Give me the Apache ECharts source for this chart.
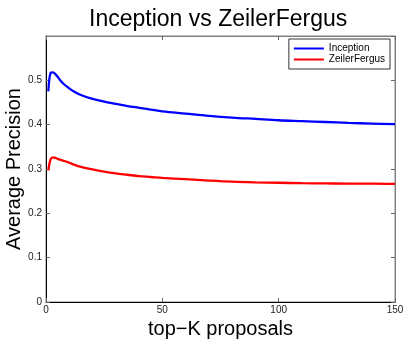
<!DOCTYPE html>
<html>
<head>
<meta charset="UTF-8">
<title>Inception vs ZeilerFergus</title>
<style>
  html, body { margin: 0; padding: 0; background: #fff; }
  #main { width: 407px; height: 339px; }
</style>
</head>
<body>
<div id="main"></div>
<script src="https://cdn.jsdelivr.net/npm/echarts@6/dist/echarts.min.js"></script>
<script>
// top-K values where the curves were read
var kVals = [1, 2, 3, 4, 5, 6, 8, 10, 12, 15, 20, 25, 30, 35, 40, 45, 50, 60, 70, 80, 90, 100, 110, 120, 130, 140, 150];
var inception = [0.475, 0.517, 0.518, 0.514, 0.508, 0.501, 0.490, 0.482, 0.475, 0.467, 0.458, 0.452, 0.447, 0.442, 0.438, 0.434, 0.430, 0.425, 0.420, 0.416, 0.413, 0.410, 0.408, 0.406, 0.404, 0.4025, 0.401];
var zeilerFergus = [0.297, 0.322, 0.326, 0.325, 0.323, 0.321, 0.318, 0.314, 0.310, 0.305, 0.299, 0.294, 0.290, 0.287, 0.284, 0.282, 0.280, 0.277, 0.274, 0.2715, 0.270, 0.269, 0.268, 0.2675, 0.267, 0.267, 0.2665];
var seriesNames = ['Inception', 'ZeilerFergus'];

function pairs(vals) {
  return kVals.map(function (k, i) { return [k, vals[i]]; });
}

var font = 'Liberation Sans, Arial, Helvetica, sans-serif';
var chart = echarts.init(document.getElementById('main'));

var tickFmt = function (v) { return String(+v.toFixed(1)); };

// axis with no labels, used for the box and mirrored ticks on top and right
function mirror(kind, pos) {
  var a = {
    type: 'value', position: pos,
    axisLine: { show: true, onZero: false, lineStyle: { color: '#808080', width: 1 } },
    axisTick: { show: true, inside: true, length: 4, lineStyle: { color: '#666' } },
    axisLabel: { show: false },
    splitLine: { show: false }
  };
  if (kind === 'x') { a.min = 0; a.max = 150; a.interval = 50; }
  else { a.min = 0; a.max = 0.6; a.interval = 0.1; }
  return a;
}

chart.setOption({
  animation: false,
  backgroundColor: '#fff',
  title: {
    text: 'Inception vs ZeilerFergus',
    left: 84, top: 3,
    textStyle: { fontFamily: font, fontSize: 23, fontWeight: 'normal', color: '#000' }
  },
  legend: {
    data: seriesNames,
    orient: 'vertical',
    right: 17, top: 39,
    icon: 'rect',
    itemWidth: 30, itemHeight: 2,
    itemGap: 0,
    padding: [4, 5, 4, 5],
    borderColor: '#333', borderWidth: 1,
    backgroundColor: '#fff',
    textStyle: { fontFamily: font, fontSize: 10, color: '#000', lineHeight: 11 }
  },
  grid: {
    left: 46, right: 12, top: 36, bottom: 37, outerBoundsMode: 'none',
    show: true, borderColor: '#808080', borderWidth: 1, backgroundColor: '#fff'
  },
  xAxis: [{
    type: 'value', min: 0, max: 150, interval: 50,
    name: 'top\u2212K proposals', nameLocation: 'middle', nameGap: 17, nameMoveOverlap: false,
    nameTextStyle: { fontFamily: font, fontSize: 20, color: '#000' },
    axisLine: { show: true, onZero: false, lineStyle: { color: '#000', width: 1 } },
    axisTick: { show: true, inside: true, length: 4, lineStyle: { color: '#666' } },
    axisLabel: { fontFamily: font, fontSize: 10, color: '#222', margin: 3 },
    splitLine: { show: false }
  }, mirror('x', 'top')],
  yAxis: [{
    type: 'value', min: 0, max: 0.6, interval: 0.1,
    name: 'Average Precision', nameLocation: 'middle', nameGap: 22, nameMoveOverlap: false,
    nameTextStyle: { fontFamily: font, fontSize: 20, color: '#000' },
    axisLine: { show: true, onZero: false, lineStyle: { color: '#000', width: 1 } },
    axisTick: { show: true, inside: true, length: 4, lineStyle: { color: '#666' } },
    axisLabel: { fontFamily: font, fontSize: 10, color: '#222', margin: 4, showMaxLabel: false, formatter: tickFmt },
    splitLine: { show: false }
  }, mirror('y', 'right')],
  series: [{
    name: seriesNames[0], type: 'line', data: pairs(inception),
    smooth: 0.35, showSymbol: false,
    itemStyle: { color: '#0000ff' },
    lineStyle: { color: '#0000ff', width: 2.3 }
  }, {
    name: seriesNames[1], type: 'line', data: pairs(zeilerFergus),
    smooth: 0.35, showSymbol: false,
    itemStyle: { color: '#ff0000' },
    lineStyle: { color: '#ff0000', width: 2.3 }
  }]
});
</script>
</body>
</html>
